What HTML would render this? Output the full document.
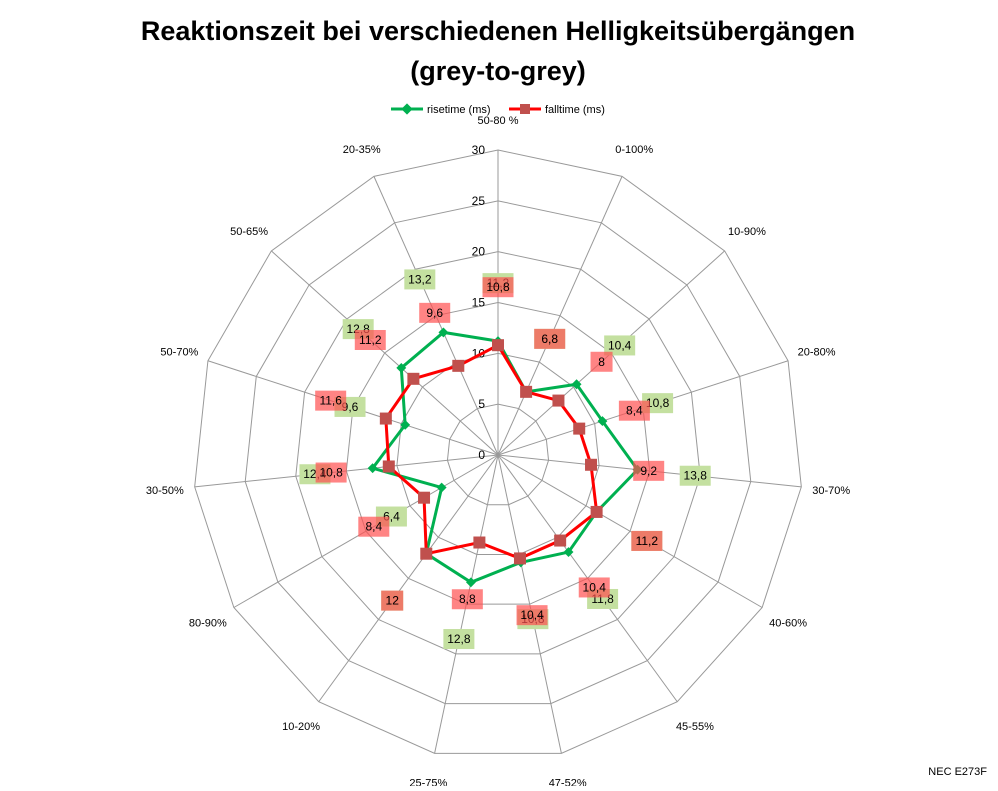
<!DOCTYPE html>
<html><head><meta charset="utf-8"><style>
body{margin:0;background:#fff;font-family:"Liberation Sans",sans-serif}
</style></head><body>
<svg id="chart" width="998" height="786" xmlns="http://www.w3.org/2000/svg" font-family="Liberation Sans, sans-serif">
<text x="498" y="40" text-anchor="middle" font-size="27" font-weight="bold">Reaktionszeit bei verschiedenen Helligkeitsübergängen</text>
<text x="498" y="80" text-anchor="middle" font-size="27" font-weight="bold">(grey-to-grey)</text>
<g>
<g><line x1="391" y1="109" x2="423" y2="109" stroke="#00b050" stroke-width="3"/><rect x="403" y="105" width="8" height="8" fill="#00b050" transform="rotate(45 407 109)"/><text x="427" y="113" font-size="11">risetime (ms)</text></g>
<g><line x1="509" y1="109" x2="541" y2="109" stroke="#ff0000" stroke-width="3"/><rect x="520" y="104" width="10" height="10" fill="#c0504d"/><text x="545" y="113" font-size="11">falltime (ms)</text></g>
</g>
<g id="grid"></g><g id="series"></g><g id="labels"></g>
<text x="987" y="775" text-anchor="end" font-size="11">NEC E273F</text>
</svg>
<script>
const categories=["50-80 %","0-100%","10-90%","20-80%","30-70%","40-60%","45-55%","47-52%","25-75%","10-20%","80-90%","30-50%","50-70%","50-65%","20-35%"];
const risetime=[11.2,6.8,10.4,10.8,13.8,11.2,11.8,10.8,12.8,12,6.4,12.4,9.6,12.8,13.2];
const falltime=[10.8,6.8,8,8.4,9.2,11.2,10.4,10.4,8.8,12,8.4,10.8,11.6,11.2,9.6];
const ticks=[0,5,10,15,20,25,30];
const cx=498,cy=455,R=305,maxV=30,NS="http://www.w3.org/2000/svg";
const n=categories.length;
function ang(i){return (i*360/n)*Math.PI/180;}
function pt(i,r){return [cx+r*Math.sin(ang(i)),cy-r*Math.cos(ang(i))];}
function rad(v){return v/maxV*R;}
function mk(tag,attrs,parent){const e=document.createElementNS(NS,tag);for(const k in attrs)e.setAttribute(k,attrs[k]);parent.appendChild(e);return e;}
const grid=document.getElementById('grid'),ser=document.getElementById('series'),lab=document.getElementById('labels');
ticks.forEach(t=>{if(t===0)return;
 const p=mk('polygon',{points:categories.map((c,i)=>pt(i,rad(t)).join(',')).join(' '),fill:'none',stroke:'#999','stroke-width':1},grid);
 
 
});
categories.forEach((c,i)=>{
 const [x,y]=pt(i,R);
 const l=mk('line',{x1:cx,y1:cy,x2:x,y2:y,stroke:'#999','stroke-width':1},grid);
 
 
 const [lx,ly]=pt(i,R+30);
 const t=mk('text',{x:lx,y:ly+4,'text-anchor':'middle','font-size':11},grid);
 t.textContent=c;
 
 
});
ticks.forEach(t=>{
 const e=mk('text',{x:cx-13,y:cy-rad(t)+4,'text-anchor':'end','font-size':12},grid);
 e.textContent=t;
 
 
});
function series(vals,color,name,marker){
 const pts=vals.map((v,i)=>pt(i,rad(v)));
 const pl=mk('polygon',{points:pts.map(p=>p.join(',')).join(' '),fill:'none',stroke:color,'stroke-width':3},ser);
 
 
 pts.forEach(([x,y])=>{
  let m;
  if(marker==='d'){m=mk('rect',{x:x-3.5,y:y-3.5,width:7,height:7,fill:'#00b050',transform:`rotate(45 ${x} ${y})`},ser);}
  else{m=mk('rect',{x:x-6,y:y-6,width:12,height:12,fill:'#c0504d'},ser);}
  
  
 });
}
series(risetime,'#00b050','risetime','d');
series(falltime,'#ff0000','falltime','s');
function labels(vals,fill,name){
 vals.forEach((v,i)=>{
  const [x,y]=pt(i,rad(v)+58);
  const s=String(v).replace('.',',');
  const w=s.length>2?31:22;
  const r=mk('rect',{x:x-w/2,y:y-10,width:w,height:20,fill:fill},lab);
  
  
  const t=mk('text',{x:x,y:y+4,'text-anchor':'middle','font-size':12},lab);
  t.textContent=s;
  
  
 });
}
labels(risetime,'#c4e0a0','risetime');
labels(falltime,'rgba(255,80,80,0.7)','falltime');
</script>
</body></html>
